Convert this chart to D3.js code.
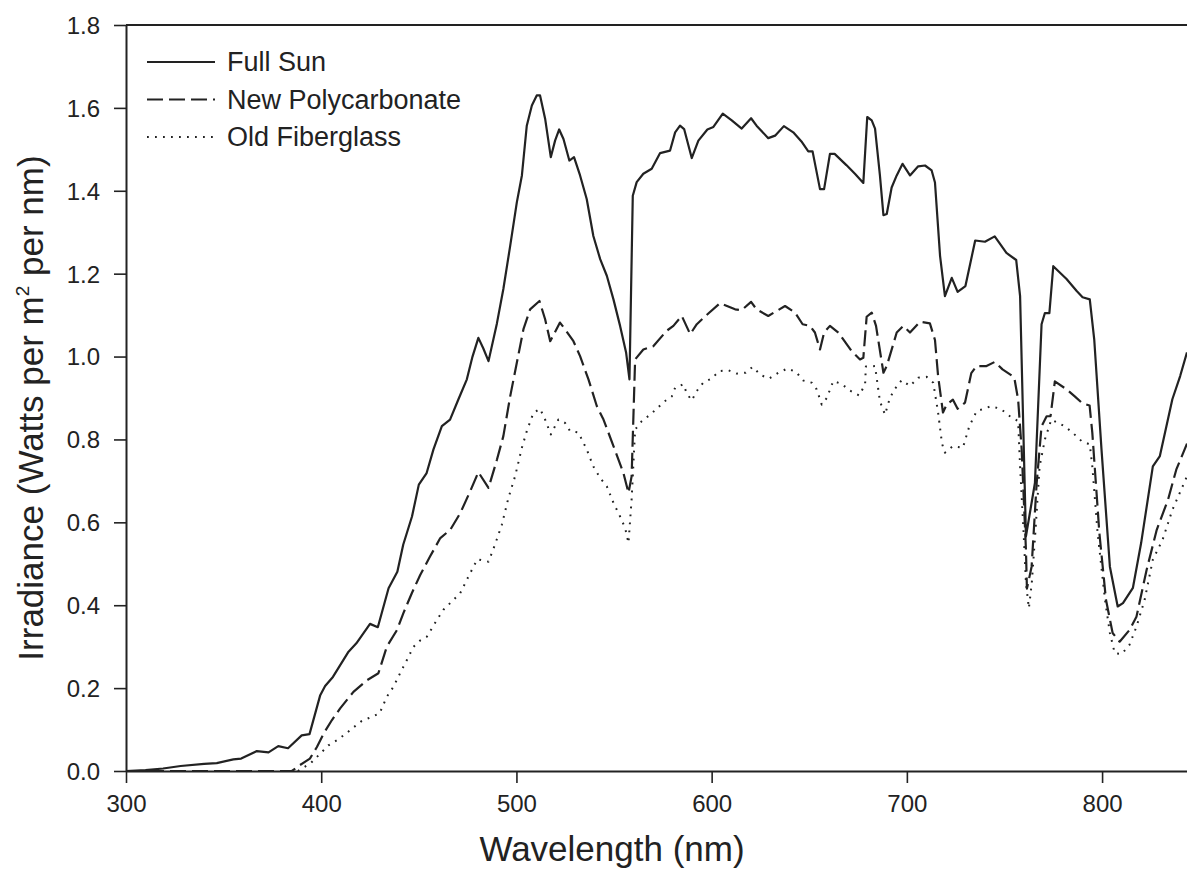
<!DOCTYPE html>
<html><head><meta charset="utf-8">
<script src="https://cdn.jsdelivr.net/npm/d3@7"></script>
<style>
html,body{margin:0;padding:0;background:#fff;}
svg{display:block;font-family:"Liberation Sans",Arial,Helvetica,sans-serif;}
</style></head>
<body><svg id="chart" width="1187" height="870"></svg>
<script>
const xTicks = [300, 400, 500, 600, 700, 800];
const yTicks = [0, 0.2, 0.4, 0.6, 0.8, 1.0, 1.2, 1.4, 1.6, 1.8];
const seriesNames = ["Full Sun", "New Polycarbonate", "Old Fiberglass"];

const fullSun = [[300,0],[310,0.002],[319,0.006],[328,0.012],[340,0.017],[346.5,0.019],[355,0.028],[359,0.03],[367,0.048],[373,0.045],[378,0.06],[383,0.055],[390,0.086],[394,0.089],[399.5,0.183],[402,0.205],[406,0.227],[414,0.288],[418,0.308],[425,0.355],[429,0.347],[434.5,0.441],[439,0.481],[442,0.546],[446.5,0.614],[450,0.691],[454,0.719],[457.5,0.776],[461.8,0.832],[466,0.848],[470.3,0.897],[474.6,0.945],[477.5,1.0],[480.5,1.045],[483,1.02],[485.7,0.989],[490,1.08],[493.3,1.163],[496.8,1.267],[500.2,1.372],[502.8,1.437],[505.3,1.557],[507.9,1.606],[510.4,1.63],[512.1,1.63],[514.7,1.574],[517.6,1.481],[519.8,1.521],[521.9,1.548],[524.1,1.525],[527.1,1.473],[529.5,1.481],[532.6,1.437],[536,1.38],[539.4,1.291],[542.9,1.235],[546.3,1.195],[549.7,1.138],[553.1,1.074],[556.2,1.009],[557.9,0.945],[559.6,1.388],[561.6,1.421],[565,1.441],[569.3,1.453],[573.6,1.491],[578.7,1.497],[581.3,1.541],[583.8,1.557],[585.9,1.549],[589.8,1.479],[593.2,1.521],[597.8,1.548],[600.9,1.554],[605.7,1.586],[610.3,1.57],[615.4,1.55],[620.2,1.575],[623,1.557],[629,1.527],[632.5,1.533],[637,1.556],[641.8,1.541],[646,1.519],[649.5,1.495],[651.7,1.495],[655.5,1.404],[657.6,1.404],[660.6,1.489],[663,1.489],[669,1.462],[673.4,1.441],[677.7,1.419],[679.7,1.578],[682,1.57],[683.7,1.55],[686.2,1.437],[688,1.341],[689.7,1.344],[692.2,1.408],[694.8,1.437],[697.8,1.465],[701.6,1.437],[705.8,1.459],[709.3,1.461],[712.7,1.449],[714.4,1.42],[717,1.243],[719.5,1.146],[723,1.19],[726,1.156],[730,1.17],[735,1.28],[740,1.277],[745,1.29],[751,1.25],[756,1.233],[758,1.146],[761,0.566],[765.6,0.695],[769,1.078],[770.7,1.105],[773,1.105],[775,1.218],[781.8,1.187],[787,1.158],[790,1.143],[793.7,1.138],[796,1.04],[799.7,0.776],[804,0.493],[808,0.397],[810.7,0.405],[815.8,0.442],[820,0.55],[826,0.735],[829.6,0.76],[836,0.897],[840,0.953],[843.5,1.01]];

const newPolycarbonate = [[300,0],[385,0],[389,0.014],[394.2,0.03],[397.8,0.058],[401.2,0.09],[405.5,0.123],[409.7,0.151],[416.5,0.191],[423.4,0.219],[429.3,0.236],[433.6,0.3],[438.8,0.34],[442.1,0.381],[446.4,0.429],[450.7,0.473],[455.8,0.518],[461,0.562],[466.1,0.582],[471.2,0.622],[476.3,0.675],[480.5,0.721],[485.7,0.683],[490,0.751],[493.3,0.808],[496.8,0.904],[500.2,0.985],[503.6,1.066],[507,1.114],[511.8,1.134],[514.7,1.09],[517.3,1.037],[522.3,1.082],[524.9,1.066],[529.2,1.037],[532.6,1.001],[536.9,0.945],[541.2,0.88],[544.6,0.848],[549.7,0.784],[554.8,0.719],[557.4,0.671],[559,0.711],[560.8,0.993],[565,1.017],[570.1,1.025],[576.9,1.062],[580.4,1.074],[584.7,1.098],[589,1.054],[592.4,1.078],[598.3,1.104],[604.3,1.129],[612,1.114],[615.4,1.112],[620.2,1.132],[623,1.114],[629,1.098],[633.3,1.11],[637.6,1.122],[642.7,1.106],[646.6,1.078],[650.4,1.074],[652.9,1.058],[655.5,1.017],[657.6,1.058],[660.6,1.074],[664.9,1.058],[671.7,1.013],[676,0.993],[677.7,0.997],[679.4,1.096],[682,1.106],[684.2,1.074],[688,0.961],[689.7,0.977],[694.8,1.058],[698.2,1.074],[701.6,1.058],[706.7,1.084],[711.8,1.08],[714.4,1.04],[716,0.953],[718.5,0.865],[720.4,0.884],[723.6,0.896],[726,0.874],[729.8,0.889],[733,0.96],[735.7,0.977],[740.8,0.977],[745,0.987],[749,0.969],[755,0.95],[757,0.896],[758.8,0.776],[761,0.534],[761.5,0.44],[763.9,0.493],[766.5,0.695],[769,0.832],[771.6,0.856],[773.6,0.856],[775.8,0.94],[781.8,0.921],[786,0.904],[790,0.887],[793.6,0.882],[795,0.816],[798.6,0.575],[802,0.413],[805.4,0.333],[809,0.312],[814,0.34],[817.6,0.372],[822.8,0.485],[828,0.582],[833.8,0.655],[838,0.727],[843.5,0.79]];

const oldFiberglass = [[388,0],[394.4,0.018],[399.5,0.042],[403.7,0.062],[408,0.074],[412.3,0.089],[416.5,0.105],[420.8,0.121],[425.1,0.129],[429.9,0.139],[433.6,0.179],[437,0.203],[440.4,0.236],[443.9,0.268],[447.3,0.3],[450.7,0.315],[454.1,0.324],[459.2,0.364],[462.6,0.389],[466.9,0.409],[471.2,0.429],[475.4,0.469],[480,0.511],[485.7,0.505],[489,0.546],[492.5,0.594],[495.9,0.659],[499.3,0.711],[502.8,0.78],[505.3,0.82],[508.7,0.864],[512.1,0.874],[514.7,0.848],[517.6,0.812],[521.5,0.848],[524.9,0.84],[527.5,0.82],[531.7,0.817],[536,0.776],[539.4,0.735],[542.9,0.707],[546.3,0.687],[549.7,0.647],[553.1,0.614],[555.7,0.586],[557.4,0.55],[559,0.655],[560.8,0.824],[564.2,0.844],[568.5,0.86],[571.9,0.874],[575.3,0.89],[579.6,0.904],[581.3,0.925],[585.5,0.933],[587.3,0.911],[589.8,0.894],[592.4,0.917],[595.7,0.937],[600,0.947],[603.9,0.965],[608.5,0.967],[612.8,0.959],[617.4,0.961],[621,0.975],[625.3,0.955],[629.5,0.947],[634.2,0.961],[638.8,0.971],[643.2,0.963],[647,0.942],[651.3,0.937],[653.8,0.921],[656.4,0.884],[659,0.9],[662.3,0.941],[666.6,0.934],[670.8,0.918],[675.6,0.906],[678.6,0.933],[679,0.976],[683.7,0.977],[685,0.933],[686.2,0.892],[688.8,0.86],[691.3,0.9],[693.9,0.922],[697.3,0.943],[701.6,0.929],[705.8,0.949],[710.1,0.951],[713.5,0.937],[716,0.865],[718,0.79],[719.5,0.768],[723.6,0.784],[728.7,0.78],[732,0.832],[735.7,0.868],[743,0.88],[748,0.874],[752.8,0.856],[757,0.844],[758,0.735],[759.8,0.575],[761,0.454],[762.5,0.393],[764,0.454],[765.8,0.575],[768,0.735],[770.7,0.8],[774,0.848],[780.8,0.832],[785,0.816],[789.5,0.796],[793.7,0.788],[795,0.735],[797.7,0.575],[801.5,0.413],[804,0.333],[806.5,0.284],[810,0.282],[814,0.304],[817.6,0.348],[821.8,0.413],[826,0.51],[831,0.558],[836,0.63],[843.5,0.711]];

const svg = d3.select("#chart");
const ink = "#222";
const x = d3.scaleLinear().domain([300, 843.5]).range([126, 1187]);
const y = d3.scaleLinear().domain([0, 1.8]).range([771, 25]);

svg.append("line").attr("x1", x(300)).attr("x2", 1187).attr("y1", y(1.8)).attr("y2", y(1.8))
  .attr("stroke", ink).attr("stroke-width", 2);

const xAxis = svg.append("g").attr("transform", `translate(0,${y(0)})`)
  .call(d3.axisBottom(x).tickValues(xTicks).tickSize(12).tickSizeOuter(0).tickFormat(d3.format("d")));
const yAxis = svg.append("g").attr("transform", `translate(${x(300)},0)`)
  .call(d3.axisLeft(y).tickValues(yTicks).tickSize(12).tickSizeOuter(0).tickFormat(d3.format(".1f")));
[xAxis, yAxis].forEach(g => {
  g.select(".domain").attr("stroke", ink).attr("stroke-width", 2);
  g.selectAll(".tick line").attr("stroke", ink).attr("stroke-width", 1.6);
  g.selectAll(".tick text").attr("fill", ink).attr("font-size", 24)
    .attr("font-family", "'Liberation Sans', Arial, sans-serif");
});
xAxis.selectAll(".tick text").attr("y", 24).attr("dy", "0.71em");
yAxis.selectAll(".tick text").attr("x", -26).attr("dy", "0.35em");

svg.append("text").attr("x", 612).attr("y", 861)
  .attr("text-anchor", "middle").attr("font-size", 35).attr("fill", ink).text("Wavelength (nm)");
const yt = svg.append("text").attr("transform", `translate(43,408) rotate(-90)`)
  .attr("text-anchor", "middle").attr("font-size", 35).attr("fill", ink);
yt.append("tspan").text("Irradiance (Watts per m");
yt.append("tspan").attr("font-size", 19).attr("dy", -14).text("2");
yt.append("tspan").attr("dy", 14).text(" per nm)");

const line = d3.line().x(d => x(d[0])).y(d => y(d[1]));
const styles = [
  {data: fullSun, dash: null, w: 2.2},
  {data: newPolycarbonate, dash: "16,6", w: 2.2},
  {data: oldFiberglass, dash: "1.8,6.2", w: 2}
];
styles.forEach(s => {
  svg.append("path").datum(s.data).attr("d", line).attr("fill", "none")
    .attr("stroke", ink).attr("stroke-width", s.w)
    .attr("stroke-dasharray", s.dash).attr("stroke-linejoin", "round");
});

const lg = svg.append("g");
seriesNames.forEach((name, i) => {
  const yy = 62 + i * 37.5;
  lg.append("line").attr("x1", 147).attr("x2", 215).attr("y1", yy).attr("y2", yy)
    .attr("stroke", ink).attr("stroke-width", 2).attr("stroke-dasharray", styles[i].dash);
  lg.append("text").attr("x", 227).attr("y", yy)
    .attr("dy", "0.35em").attr("font-size", 27).attr("fill", ink).text(name);
});
</script></body></html>
